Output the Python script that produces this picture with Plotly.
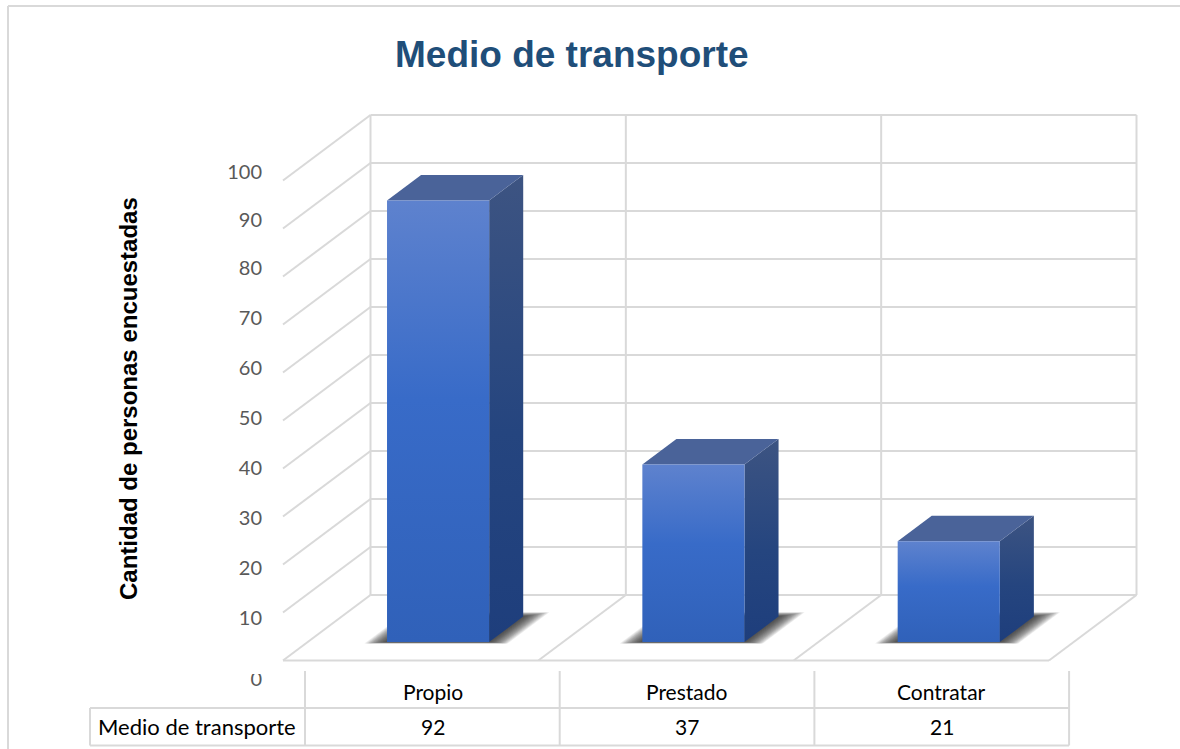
import plotly.graph_objects as go

categories = ["Propio", "Prestado", "Contratar"]
values = [92, 37, 21]
series_name = "Medio de transporte"
y_ticks = [0, 10, 20, 30, 40, 50, 60, 70, 80, 90, 100]

W, H = 1180, 749
GRID = "#d9d9d9"

# page pixels <-> chart units: one category is 255.33 px, one value unit 4.8 px
X0, Y0 = 283, 660.5
CAT_PX, VAL_PX = 255.33, 4.8
DEPTH_X = 87.5 / CAT_PX
DEPTH_Y = 65.5 / VAL_PX

# bar box inside its category cell
BAR_GAP, BAR_W = 0.3106, 0.4
D_FRONT, D_BACK = 0.2824, 0.6717


def pt(x, v, depth=0):
    return x + depth * DEPTH_X, v + depth * DEPTH_Y


def px(x):
    return x / W


def py(y):
    return 1 - y / H


def poly(points, **kw):
    xs = [p[0] for p in points] + [points[0][0]]
    ys = [p[1] for p in points] + [points[0][1]]
    return go.Scatter(x=xs, y=ys, mode="none", fill="toself", hoverinfo="skip", showlegend=False, **kw)


def grid_line(a, b):
    return dict(type="line", xref="x", yref="y", x0=a[0], y0=a[1], x1=b[0], y1=b[1],
                line=dict(color=GRID, width=2), layer="below")


def page_line(x0, y0, x1, y1, layer="below"):
    return dict(type="line", xref="paper", yref="paper", x0=px(x0), y0=py(y0), x1=px(x1), y1=py(y1),
                line=dict(color=GRID, width=2), layer=layer)


n = len(categories)
shapes = []

# walls and floor
for t in y_ticks:
    shapes.append(grid_line(pt(0, t, 1), pt(n, t, 1)))
    if t > 0:
        shapes.append(grid_line(pt(0, t, 0), pt(0, t, 1)))
for i in range(n + 1):
    shapes.append(grid_line(pt(i, 0, 0), pt(i, 0, 1)))
    shapes.append(grid_line(pt(i, 0, 1), pt(i, y_ticks[-1], 1)))
shapes.append(grid_line(pt(0, 0, 0), pt(n, 0, 0)))

# table under the chart
for i in range(n + 1):
    x = 305 + i * 254.7
    shapes.append(page_line(x, 671, x, 745.5))
shapes.append(page_line(90, 708, 1069, 708))
shapes.append(page_line(90, 745.5, 1069, 745.5))
shapes.append(page_line(90, 708, 90, 745.5))

# outer chart border, open on the right and bottom
shapes.append(page_line(8, 6, W, 6))
shapes.append(page_line(8, 6, 8, H))

# the reference crops the top of the zero label
shapes.append(dict(type="rect", xref="paper", yref="paper", x0=px(230), x1=px(275), y0=py(674), y1=py(663),
                   fillcolor="white", line=dict(width=0), layer="above"))

fig = go.Figure()

# soft shadows on the floor, many thin layers so the edge fades out
for i in range(n):
    left, right = i + BAR_GAP, i + BAR_GAP + BAR_W
    for k in range(16):
        e = 0.08 - k * 0.005
        fig.add_trace(poly([
            pt(left - e, 0, D_FRONT - e * 0.3),
            pt(right + e, 0, D_FRONT - e * 0.3),
            pt(right + e, 0, D_BACK + e * 0.8),
            pt(left - e, 0, D_BACK + e * 0.8),
        ], fillcolor="rgba(30,30,30,0.085)"))

# the 3D boxes
for i, v in enumerate(values):
    left, right = i + BAR_GAP, i + BAR_GAP + BAR_W
    fig.add_trace(poly([
        pt(right, 0, D_FRONT), pt(right, 0, D_BACK), pt(right, v, D_BACK), pt(right, v, D_FRONT),
    ], fillgradient=dict(type="vertical", colorscale=[[0, "#1e3e7c"], [0.45, "#25457f"], [1, "#3d5482"]])))
    fig.add_trace(poly([
        pt(left, v, D_FRONT), pt(right, v, D_FRONT), pt(right, v, D_BACK), pt(left, v, D_BACK),
    ], fillcolor="#4a6399"))
    fig.add_trace(go.Scatter(
        x=[pt(left, 0, D_FRONT)[0], pt(right, 0, D_FRONT)[0], pt(right, 0, D_FRONT)[0], pt(left, 0, D_FRONT)[0], pt(left, 0, D_FRONT)[0]],
        y=[pt(left, 0, D_FRONT)[1], pt(left, 0, D_FRONT)[1], pt(left, v, D_FRONT)[1], pt(left, v, D_FRONT)[1], pt(left, 0, D_FRONT)[1]],
        mode="none", fill="toself", showlegend=False, name=categories[i],
        hovertemplate="%{fullData.name}: " + str(v) + "<extra></extra>",
        fillgradient=dict(type="vertical", colorscale=[[0, "#3061b9"], [0.55, "#386bc8"], [1, "#5e82ce"]]),
    ))


annotations = []


def label(text, x, y, size, color="black", family="Lato", **kw):
    annotations.append(dict(text=text, x=px(x), y=py(y), xref="paper", yref="paper", showarrow=False,
                            xanchor="center", yanchor="middle",
                            font=dict(family=family, size=size, color=color), **kw))


# tick labels sit slightly off the gridlines in the reference
tick_label_y = [681, 620, 570, 520, 470, 420, 370, 320, 270, 222, 174]
fig.add_trace(go.Scatter(
    x=[(262 - X0) / CAT_PX] * len(y_ticks),
    y=[(Y0 - y) / VAL_PX for y in tick_label_y],
    text=[str(t) for t in y_ticks], mode="text", textposition="middle left",
    textfont=dict(family="Lato", size=20, color="#595959"), hoverinfo="skip", showlegend=False,
))

label("<b>Medio de transporte</b>", 572, 55, 37, color="#1f4e79", family="Liberation Sans")
label("<b>Cantidad de personas encuestadas</b>", 129, 399, 24, family="Liberation Sans", textangle=-90)

label(series_name, 197, 726, 22)
for i, c in enumerate(categories):
    label(c, 432.5 + i * 254.7, 691, 21)
    label(str(values[i]), 432.5 + i * 254.7, 726, 21)

fig.update_layout(
    width=W, height=H, margin=dict(l=0, r=0, t=0, b=0),
    paper_bgcolor="white", plot_bgcolor="white", showlegend=False,
    shapes=shapes, annotations=annotations,
    xaxis=dict(range=[-X0 / CAT_PX, (W - X0) / CAT_PX], visible=False, fixedrange=True),
    yaxis=dict(range=[(Y0 - H) / VAL_PX, Y0 / VAL_PX], visible=False, fixedrange=True),
)

fig.write_html("out.html", config=dict(displayModeBar=False), post_script="document.body.style.margin='0';")
